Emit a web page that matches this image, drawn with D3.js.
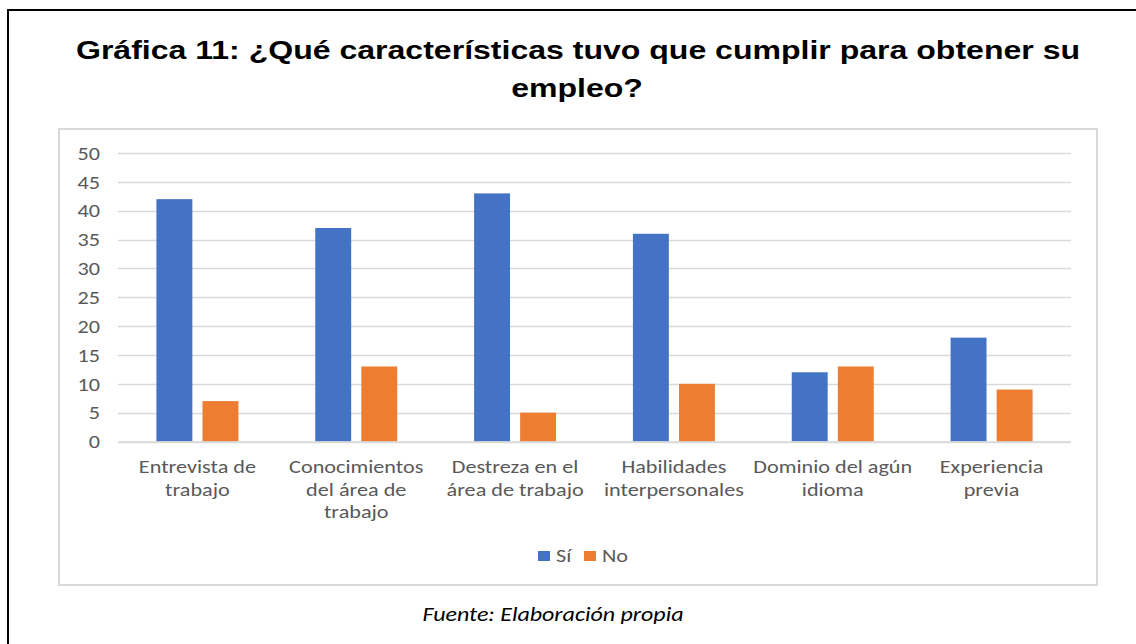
<!DOCTYPE html>
<html><head><meta charset="utf-8">
<script src="https://cdn.jsdelivr.net/npm/d3@7"></script>
<style>body{margin:0;background:#fff;} svg{display:block;}</style>
</head><body>
<script>
const categories = [
  ["Entrevista de","trabajo"],
  ["Conocimientos","del área de","trabajo"],
  ["Destreza en el","área de trabajo"],
  ["Habilidades","interpersonales"],
  ["Dominio del agún","idioma"],
  ["Experiencia","previa"]
];
const seriesNames = ["Sí","No"];
const siValues = [42,37,43,36,12,18];
const noValues = [7,13,5,10,13,9];
const yTicks = [0,5,10,15,20,25,30,35,40,45,50];
const colors = ["#4472C4","#ED7D31"];

const W=1136,H=644;
const SX=1.2; // horizontal stretch of the reference image
const svg=d3.select("body").append("svg").attr("width",W).attr("height",H);
svg.append("rect").attr("x",0).attr("y",0).attr("width",W).attr("height",H).attr("fill","#fff");
svg.append("rect").attr("x",8).attr("y",10).attr("width",W+10).attr("height",H+10)
  .attr("fill","none").attr("stroke","#000").attr("stroke-width",2);

function stext(parent,x,y,txt,o){
  return parent.append("text").attr("transform",`translate(${x},${y}) scale(${SX},1)`)
    .attr("x",0).attr("y",0).attr("text-anchor",o.anchor||"middle")
    .attr("font-family",o.family).attr("font-size",o.size).attr("fill",o.fill||"#000")
    .attr("font-weight",o.weight||"normal").attr("font-style",o.style||"normal").text(txt);
}
const tfont="'Liberation Sans', Arial, sans-serif";
const font="Carlito, 'Noto Sans', sans-serif";

stext(svg,578,59,"Gráfica 11: ¿Qué características tuvo que cumplir para obtener su",{family:tfont,size:26.7,weight:"bold"});
stext(svg,577,97,"empleo?",{family:tfont,size:26.7,weight:"bold"});

svg.append("rect").attr("x",59).attr("y",129).attr("width",1038).attr("height",456)
  .attr("fill","#fff").attr("stroke","#d9d9d9").attr("stroke-width",2);

const x0=d3.scaleBand().domain(d3.range(categories.length)).range([118,1071]);
const y=d3.scaleLinear().domain([0,50]).range([441.5,153]);
const groupW=82;
const x1=d3.scaleBand().domain(seriesNames).range([0,groupW]).paddingInner(0.22);

svg.append("g").selectAll("line").data(yTicks).join("line")
  .attr("x1",118).attr("x2",1071).attr("y1",d=>Math.round(y(d))+0.5).attr("y2",d=>Math.round(y(d))+0.5)
  .attr("stroke","#d9d9d9").attr("stroke-width",1.5);

const yAxis=svg.append("g").attr("transform","translate(100,0)")
  .call(d3.axisLeft(y).tickValues(yTicks).tickSize(0).tickPadding(0));
yAxis.select(".domain").remove();
yAxis.selectAll(".tick text").each(function(){
  const t=d3.select(this);
  t.attr("font-family",font).attr("font-size",18.5).attr("fill","#595959").attr("dy","0.34em")
   .attr("x",0).attr("transform",`scale(${SX},1)`);
});

[siValues,noValues].forEach((vals,si)=>{
  svg.append("g").selectAll("rect").data(vals).join("rect")
    .attr("x",(d,i)=>x0(i)+(x0.bandwidth()-groupW)/2+x1(seriesNames[si]))
    .attr("width",x1.bandwidth())
    .attr("y",d=>y(d)).attr("height",d=>y(0)-y(d))
    .attr("fill",colors[si]);
});
svg.append("line").attr("x1",118).attr("x2",1071).attr("y1",442).attr("y2",442).attr("stroke","#d9d9d9").attr("stroke-width",1.5);

const cl=svg.append("g");
categories.forEach((lines,i)=>{
  lines.forEach((ln,j)=>stext(cl,x0(i)+x0.bandwidth()/2,473+j*22.5,ln,{family:font,size:18.5,fill:"#595959"}));
});

const lg=svg.append("g");
const legX=[538,584];
seriesNames.forEach((n,i)=>{
  lg.append("rect").attr("x",legX[i]).attr("y",551).attr("width",12).attr("height",10).attr("fill",colors[i]);
  stext(lg,legX[i]+18,562,n,{family:font,size:18.5,fill:"#595959",anchor:"start"});
});

stext(svg,553,621,"Fuente: Elaboración propia",{family:font,size:20,style:"italic"});
</script>
</body></html>
